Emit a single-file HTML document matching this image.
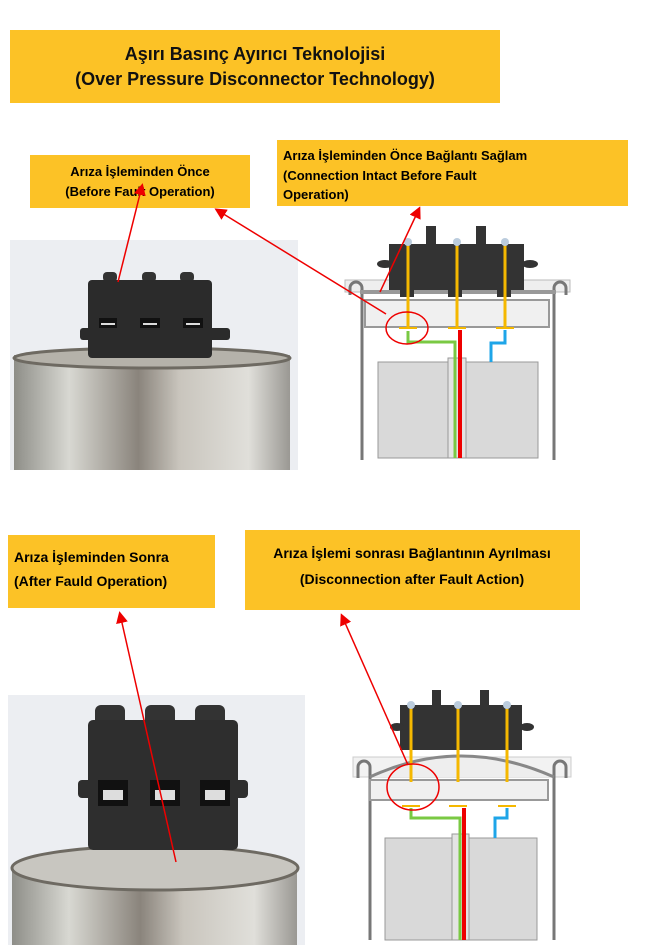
<!DOCTYPE html>
<html><head><meta charset="utf-8"><style>
body{margin:0;background:#fff;}
svg{display:block;font-family:"Liberation Sans",sans-serif;}
</style></head><body>
<svg width="650" height="951" viewBox="0 0 650 951" xmlns="http://www.w3.org/2000/svg">
<defs>
<linearGradient id="can" x1="0" x2="1" y1="0" y2="0">
<stop offset="0" stop-color="#8e8e88"/><stop offset="0.2" stop-color="#d8d8d2"/><stop offset="0.45" stop-color="#8a847c"/><stop offset="0.6" stop-color="#c9c5bd"/><stop offset="0.85" stop-color="#e0dfda"/><stop offset="1" stop-color="#9a9893"/>
</linearGradient>
<marker id="ah" markerWidth="8" markerHeight="8" refX="6" refY="4" orient="auto"><path d="M0,0 L8,4 L0,8 z" fill="#e00"/></marker>
</defs>
<rect width="650" height="951" fill="#fff"/>
<!-- title -->
<rect x="10" y="30" width="490" height="73" fill="#fcc226"/>
<text x="255" y="60" text-anchor="middle" font-size="18" font-weight="bold" fill="#111">Aşırı Basınç Ayırıcı Teknolojisi</text>
<text x="255" y="85" text-anchor="middle" font-size="18" font-weight="bold" fill="#111">(Over Pressure Disconnector Technology)</text>
<rect x="30" y="155" width="220" height="53" fill="#fcc226"/>
<text x="140" y="176" text-anchor="middle" font-size="13" font-weight="bold">Arıza İşleminden Önce</text>
<text x="140" y="196" text-anchor="middle" font-size="13" font-weight="bold">(Before Fault Operation)</text>
<rect x="277" y="140" width="351" height="66" fill="#fcc226"/>
<text x="283" y="160" font-size="13" font-weight="bold">Arıza İşleminden Önce Bağlantı Sağlam</text>
<text x="283" y="180" font-size="13" font-weight="bold">(Connection Intact Before Fault</text>
<text x="283" y="199" font-size="13" font-weight="bold">Operation)</text>
<rect x="8" y="535" width="207" height="73" fill="#fcc226"/>
<text x="14" y="562" font-size="14" font-weight="bold">Arıza İşleminden Sonra</text>
<text x="14" y="586" font-size="14" font-weight="bold">(After Fauld Operation)</text>
<rect x="245" y="530" width="335" height="80" fill="#fcc226"/>
<text x="412" y="558" text-anchor="middle" font-size="14" font-weight="bold">Arıza İşlemi sonrası Bağlantının Ayrılması</text>
<text x="412" y="584" text-anchor="middle" font-size="14" font-weight="bold">(Disconnection after Fault Action)</text>

<!-- top photo -->
<rect x="10" y="240" width="288" height="230" fill="#eceef2"/>
<rect x="14" y="355" width="276" height="115" fill="url(#can)"/>
<ellipse cx="152" cy="358" rx="138" ry="10" fill="#b5b2aa" stroke="#6e6a62" stroke-width="3"/>
<rect x="103" y="272" width="14" height="10" rx="4" fill="#333"/><rect x="142" y="272" width="14" height="10" rx="4" fill="#333"/><rect x="180" y="272" width="14" height="10" rx="4" fill="#333"/>
<rect x="88" y="280" width="124" height="78" rx="4" fill="#2b2b2b"/>
<rect x="80" y="328" width="150" height="12" rx="3" fill="#2b2b2b"/>
<rect x="99" y="318" width="18" height="10" fill="#111"/><rect x="140" y="318" width="20" height="10" fill="#111"/><rect x="183" y="318" width="20" height="10" fill="#111"/>
<rect x="101" y="323" width="14" height="2" fill="#ddd"/><rect x="143" y="323" width="14" height="2" fill="#ddd"/><rect x="186" y="323" width="14" height="2" fill="#ddd"/>

<!-- bottom photo -->
<rect x="8" y="695" width="297" height="250" fill="#eceef2"/>
<rect x="12" y="865" width="285" height="80" fill="url(#can)"/>
<ellipse cx="155" cy="868" rx="143" ry="22" fill="#c8c6c0" stroke="#6e6a62" stroke-width="3"/>
<rect x="95" y="705" width="30" height="22" rx="6" fill="#333"/><rect x="145" y="705" width="30" height="22" rx="6" fill="#333"/><rect x="195" y="705" width="30" height="22" rx="6" fill="#333"/>
<rect x="88" y="720" width="150" height="130" rx="5" fill="#2e2e2e"/>
<rect x="78" y="780" width="170" height="18" rx="4" fill="#2e2e2e"/>
<rect x="98" y="780" width="30" height="26" fill="#111"/><rect x="150" y="780" width="30" height="26" fill="#111"/><rect x="200" y="780" width="30" height="26" fill="#111"/>
<rect x="103" y="790" width="20" height="10" fill="#ddd"/><rect x="155" y="790" width="20" height="10" fill="#ddd"/><rect x="205" y="790" width="20" height="10" fill="#ddd"/>

<!-- top diagram -->
<g>
<rect x="345" y="280" width="225" height="12" fill="#eee" stroke="#bbb"/>
<path d="M350,295 V288 a6,6 0 0 1 12,0 V460" fill="none" stroke="#777" stroke-width="3"/>
<path d="M566,295 V288 a6,6 0 0 0 -12,0 V460" fill="none" stroke="#777" stroke-width="3"/>
<rect x="360" y="290" width="196" height="4" fill="#999"/>
<rect x="365" y="300" width="184" height="27" fill="#f0f0f0" stroke="#999" stroke-width="2"/>
<rect x="378" y="362" width="72" height="96" fill="#d9d9d9" stroke="#999"/>
<rect x="466" y="362" width="72" height="96" fill="#d9d9d9" stroke="#999"/>
<rect x="448" y="358" width="18" height="100" fill="#e4e4e4" stroke="#999"/>
<rect x="426" y="226" width="10" height="20" fill="#333"/><rect x="476" y="226" width="10" height="20" fill="#333"/>
<rect x="389" y="244" width="135" height="46" fill="#333"/>
<ellipse cx="385" cy="264" rx="8" ry="4" fill="#333"/><ellipse cx="530" cy="264" rx="8" ry="4" fill="#333"/>
<rect x="400" y="289" width="14" height="8" fill="#333"/><rect x="448" y="289" width="14" height="8" fill="#333"/><rect x="497" y="289" width="14" height="8" fill="#333"/>
<path d="M408,331 V342 H455 V458" fill="none" stroke="#7ac943" stroke-width="3"/>
<line x1="460" y1="330" x2="460" y2="458" stroke="#e00" stroke-width="4"/>
<path d="M505,330 V343 H491 V362" fill="none" stroke="#1ea5e8" stroke-width="3"/>
<g stroke="#f5b800" stroke-width="3"><line x1="408" y1="242" x2="408" y2="328"/><line x1="457" y1="242" x2="457" y2="328"/><line x1="505" y1="242" x2="505" y2="328"/></g>
<g stroke="#f5b800" stroke-width="2"><line x1="399" y1="328" x2="417" y2="328"/><line x1="448" y1="328" x2="466" y2="328"/><line x1="496" y1="328" x2="514" y2="328"/></g>
<circle cx="408" cy="242" r="4" fill="#bcd"/><circle cx="457" cy="242" r="4" fill="#bcd"/><circle cx="505" cy="242" r="4" fill="#bcd"/>
<ellipse cx="407" cy="328" rx="21" ry="16" fill="none" stroke="#e00" stroke-width="1.5"/>
</g>

<!-- bottom diagram -->
<g>
<rect x="353" y="757" width="218" height="20" fill="#f2f2f2" stroke="#ccc"/>
<path d="M358,778 V767 a6,6 0 0 1 12,0 V940" fill="none" stroke="#777" stroke-width="3"/>
<path d="M566,778 V767 a6,6 0 0 0 -12,0 V940" fill="none" stroke="#777" stroke-width="3"/>
<path d="M370,777 Q460,735 554,777" fill="#eee" stroke="#888" stroke-width="3"/>
<rect x="370" y="780" width="178" height="20" fill="#f0f0f0" stroke="#999" stroke-width="2"/>
<rect x="385" y="838" width="68" height="102" fill="#d9d9d9" stroke="#999"/>
<rect x="469" y="838" width="68" height="102" fill="#d9d9d9" stroke="#999"/>
<rect x="452" y="834" width="17" height="106" fill="#e4e4e4" stroke="#999"/>
<rect x="432" y="690" width="9" height="18" fill="#333"/><rect x="480" y="690" width="9" height="18" fill="#333"/>
<rect x="400" y="705" width="122" height="45" fill="#333"/>
<ellipse cx="397" cy="727" rx="7" ry="4" fill="#333"/><ellipse cx="527" cy="727" rx="7" ry="4" fill="#333"/>
<path d="M411,808 V818 H460 V940" fill="none" stroke="#7ac943" stroke-width="3"/>
<line x1="464" y1="808" x2="464" y2="940" stroke="#e00" stroke-width="4"/>
<path d="M507,808 V818 H495 V838" fill="none" stroke="#1ea5e8" stroke-width="3"/>
<g stroke="#f5b800" stroke-width="3"><line x1="411" y1="705" x2="411" y2="782"/><line x1="458" y1="705" x2="458" y2="782"/><line x1="507" y1="705" x2="507" y2="782"/></g>
<g stroke="#f5b800" stroke-width="2"><line x1="402" y1="806" x2="420" y2="806"/><line x1="449" y1="806" x2="467" y2="806"/><line x1="498" y1="806" x2="516" y2="806"/></g>
<circle cx="411" cy="705" r="4" fill="#bcd"/><circle cx="458" cy="705" r="4" fill="#bcd"/><circle cx="507" cy="705" r="4" fill="#bcd"/>
<ellipse cx="413" cy="787" rx="26" ry="23" fill="none" stroke="#e00" stroke-width="1.5"/>
</g>

<!-- arrows -->
<g stroke="#e00" stroke-width="1.5" fill="none">
<line x1="118" y1="282" x2="142" y2="186" marker-end="url(#ah)"/>
<line x1="386" y1="314" x2="217" y2="210" marker-end="url(#ah)"/>
<line x1="380" y1="292" x2="419" y2="209" marker-end="url(#ah)"/>
<line x1="176" y1="862" x2="120" y2="614" marker-end="url(#ah)"/>
<line x1="408" y1="765" x2="342" y2="616" marker-end="url(#ah)"/>
</g>
</svg>
</body></html>
